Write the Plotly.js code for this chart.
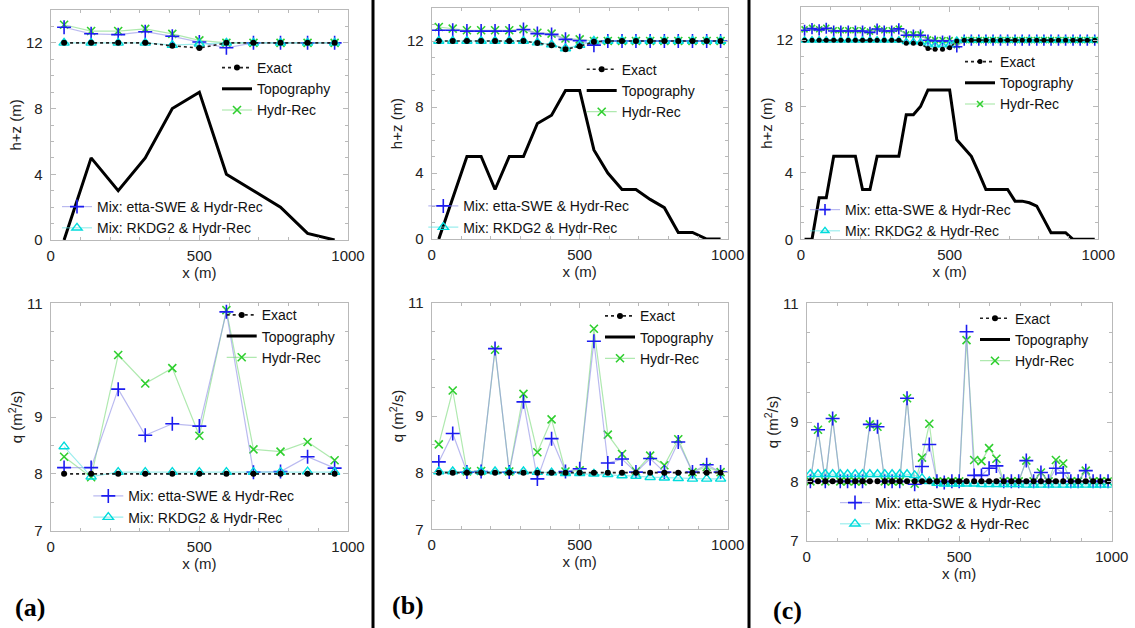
<!DOCTYPE html>
<html><head><meta charset="utf-8">
<script src="https://cdn.plot.ly/plotly-3.0.1.min.js"></script>
<style>html,body{margin:0;padding:0;background:#fff}
.traces{opacity:1 !important}</style>
</head><body><div id="chart" style="width:1135px;height:628px"></div>
<script>
// ---------- DATA ----------
const seriesNames = ['Exact', 'Topography', 'Hydr-Rec', 'Mix: etta-SWE & Hydr-Rec', 'Mix: RKDG2 & Hydr-Rec'];
const panelLabels = ['(a)', '(b)', '(c)'];
const xTickVals = [0, 500, 1000];
const hTickVals = [0, 4, 8, 12];
const qTickVals = [7, 8, 9, 11];

// (a) 11 cells
const xA = [45, 136, 227, 318, 409, 500, 591, 682, 773, 864, 955];
const topoA = [0, 5, 3, 5, 8, 9, 4, 3, 2, 0.4, 0];
const exactHA = [12, 12, 12, 12, 11.82, 11.68, 12, 12, 12, 12, 12];
const hydrHA = [13.1, 12.72, 12.72, 12.85, 12.55, 12.15, 12.0, 12, 12, 12, 12];
const ettaHA = [12.95, 12.55, 12.5, 12.68, 12.4, 12.05, 11.7, 12, 12, 12, 12];
const rkdgHA = [12, 12, 12, 12, 11.86, 11.95, 12, 12, 12, 12, 12];
const exactQA = [8, 8, 8, 8, 8, 8, 8, 8, 8, 8, 8];
const hydrQA = [8.3, 7.94, 10.09, 9.59, 9.86, 8.67, 10.88, 8.43, 8.39, 8.56, 8.24];
const ettaQA = [8.11, 8.11, 9.49, 8.68, 8.88, 8.84, 10.85, 8.03, 8.04, 8.3, 8.1];
const rkdgQA = [8.48, 7.95, 8.03, 8.03, 8.03, 8.03, 8.03, 8.03, 8.03, 8.04, 8.03];

// (b) 21 cells
const xB = [24, 71, 119, 167, 214, 262, 310, 357, 405, 452, 500, 548, 595, 643, 690, 738, 786, 833, 881, 929, 976];
const topoB = [0, 2.5, 5, 5, 3, 5, 5, 7, 7.5, 9, 9, 5.4, 4, 3, 3, 2.4, 1.9, 0.4, 0.4, 0, 0];
const exactHB = [12, 12, 12, 12, 12, 12, 12, 11.88, 11.75, 11.5, 11.68, 11.95, 12, 12, 12, 12, 12, 12, 12, 12, 12];
const hydrHB = [12.85, 12.75, 12.65, 12.65, 12.65, 12.65, 12.72, 12.5, 12.45, 12.15, 12.1, 12.0, 12, 12, 12, 12, 12, 12, 12, 12, 12];
const ettaHB = [12.65, 12.65, 12.6, 12.6, 12.6, 12.6, 12.7, 12.45, 12.4, 12.1, 12.02, 11.75, 12, 12, 12, 12, 12, 12, 12, 12, 12];
const rkdgHB = [12, 12, 12, 12, 12, 12, 12, 11.9, 11.78, 11.55, 11.75, 12, 12, 12, 12, 12, 12, 12, 12, 12, 12];
const exactQB = [8, 8, 8, 8, 8, 8, 8, 8, 8, 8, 8, 8, 8, 8, 8, 8, 8, 8, 8, 8, 8];
const hydrQB = [8.5, 9.45, 8.02, 8.03, 10.17, 8.02, 9.39, 8.36, 8.94, 8.02, 8.04, 10.54, 8.67, 8.33, 8.02, 8.3, 8.13, 8.59, 8.01, 8.1, 8.01];
const ettaQB = [8.19, 8.69, 8.01, 8.02, 10.19, 8.01, 9.25, 7.89, 8.6, 8.02, 8.07, 10.32, 8.17, 8.24, 8.01, 8.25, 8.01, 8.54, 8.01, 8.14, 8.01];
const rkdgQB = [8.02, 8.02, 8.02, 8.02, 8.02, 8.02, 8.02, 8.01, 8.0, 7.99, 7.99, 7.98, 7.97, 7.95, 7.94, 7.92, 7.91, 7.9, 7.89, 7.89, 7.89];

// (c) 41 cells
const xC = [12, 37, 61, 85, 110, 134, 159, 183, 207, 232, 256, 280, 305, 329, 354, 378, 402, 427, 451, 476, 500,
            524, 549, 573, 598, 622, 646, 671, 695, 720, 744, 768, 793, 817, 841, 866, 890, 915, 939, 963, 988];
const topoC = [0, 0, 2.5, 2.5, 5, 5, 5, 5, 3, 3, 5, 5, 5, 5, 7.5, 7.5, 8, 9, 9, 9, 9,
               6, 5.5, 5, 4, 3, 3, 3, 3, 2.3, 2.3, 2.2, 2, 1.2, 0.4, 0.4, 0.4, 0, 0, 0, 0];
const exactHC = [12, 12, 12, 12, 12, 12, 12, 12, 12, 12, 12, 12, 12, 12, 11.82, 11.82, 11.78, 11.5, 11.45, 11.45, 11.55,
                 11.95, 12, 12, 12, 12, 12, 12, 12, 12, 12, 12, 12, 12, 12, 12, 12, 12, 12, 12, 12];
const hydrHC = [12.65, 12.74, 12.66, 12.75, 12.6, 12.6, 12.6, 12.6, 12.6, 12.52, 12.7, 12.6, 12.6, 12.7, 12.35, 12.35, 12.35, 12.05, 12.0, 12.0, 12.0,
                11.7, 12, 12, 12, 12, 12, 12, 12, 12, 12, 12, 12, 12, 12, 12, 12, 12, 12, 12, 12];
const ettaHC = [12.6, 12.7, 12.62, 12.72, 12.55, 12.55, 12.55, 12.55, 12.55, 12.47, 12.67, 12.55, 12.55, 12.68, 12.3, 12.3, 12.3, 12.0, 11.95, 11.95, 11.95,
                11.6, 12, 12, 12, 12, 12, 12, 12, 12, 12, 12, 12, 12, 12, 12, 12, 12, 12, 12, 12];
const rkdgHC = [12, 12, 12, 12, 12, 12, 12, 12, 12, 12, 12, 12, 12, 12, 11.9, 11.9, 11.88, 11.75, 11.7, 11.7, 11.75,
                11.98, 12, 12, 12, 12, 12, 12, 12, 12, 12, 12, 12, 12, 12, 12, 12, 12, 12, 12, 12];
const exactQC = [8, 8, 8, 8, 8, 8, 8, 8, 8, 8, 8, 8, 8, 8, 8, 8, 8, 8, 8, 8, 8,
                 8, 8, 8, 8, 8, 8, 8, 8, 8, 8, 8, 8, 8, 8, 8, 8, 8, 8, 8, 8];
const hydrQC = [8.0, 8.87, 8.0, 9.06, 8.0, 8.0, 8.0, 8.0, 8.96, 8.92, 8.0, 8.0, 8.0, 9.4, 7.96, 8.4, 8.97, 8.0, 7.99, 8.0, 8.0,
                10.38, 8.36, 8.34, 8.56, 8.38, 8.0, 8.0, 8.0, 8.35, 8.0, 8.15, 8.0, 8.36, 8.3, 8.0, 8.0, 8.18, 8.0, 8.0, 8.0];
const ettaQC = [8.0, 8.87, 8.0, 9.06, 8.0, 8.0, 8.0, 8.0, 8.96, 8.92, 8.0, 8.0, 8.0, 9.4, 7.95, 8.25, 8.62, 8.0, 7.98, 8.0, 8.0,
                10.52, 8.1, 8.1, 8.22, 8.26, 8.0, 8.0, 8.0, 8.35, 8.0, 8.15, 8.0, 8.22, 8.14, 8.0, 8.0, 8.18, 8.0, 8.0, 8.0];
const rkdgQC = [8.12, 8.12, 8.12, 8.12, 8.12, 8.12, 8.12, 8.12, 8.12, 8.12, 8.12, 8.12, 8.12, 8.12, 8.1, 8.05, 8.0, 7.97, 7.96, 7.96, 7.96,
                7.96, 7.96, 7.95, 7.95, 7.95, 7.95, 7.95, 7.95, 7.94, 7.94, 7.94, 7.94, 7.94, 7.94, 7.94, 7.94, 7.94, 7.94, 7.94, 7.94];

// ---------- LAYOUT HELPERS ----------
const W = 1135, H = 628;
const P = px => px / W;
const Q = py => 1 - py / H;
const FONT = 'Liberation Sans, Arial, sans-serif';
const FRAME = '#b9b9b9';

const styles = {
  exact: {mode: 'lines+markers', line: {color: '#222', width: 1.6, dash: 'dot'},
          marker: {symbol: 'circle', size: 6, color: '#000'}},
  topo: {mode: 'lines', line: {color: '#000', width: 3}},
  hydr: {mode: 'lines+markers', line: {color: 'rgba(110,215,110,0.55)', width: 1.2},
         marker: {symbol: 'x-thin-open', size: 8, color: '#2fcf2f', line: {width: 1.6, color: '#2fcf2f'}}},
  etta: {mode: 'lines+markers', line: {color: 'rgba(140,140,230,0.6)', width: 1.2},
         marker: {symbol: 'cross-thin-open', size: 10, color: '#1c1cf0', line: {width: 1.6, color: '#1c1cf0'}}},
  rkdg: {mode: 'lines+markers', line: {color: 'rgba(90,225,225,0.6)', width: 1.2},
         marker: {symbol: 'triangle-up-open', size: 9, color: '#00dcdc', line: {width: 1.4, color: '#00dcdc'}}}
};

const data = [];
// topoOnPlot=false: Topography is listed in the legend of the q panels but not drawn there
function addPanel(ax, x, topo, topoOnPlot, exact, hydr, etta, rkdg, legA, legB, mScale) {
  const xa = 'x' + ax, ya = 'y' + ax;
  const mk = (key, name, rank, xs, ys, leg, show) => {
    const st = JSON.parse(JSON.stringify(styles[key]));
    if (st.marker) st.marker.size = Math.round(st.marker.size * mScale);
    return Object.assign({
      type: 'scatter', x: xs, y: ys, name: name, xaxis: xa, yaxis: ya,
      legend: leg, legendrank: rank, showlegend: show, cliponaxis: true, hoverinfo: 'skip'
    }, st);
  };
  const t = mk('topo', seriesNames[1], 2, x, topo, legA, true);
  if (!topoOnPlot) t.visible = 'legendonly';
  data.push(t);
  data.push(mk('hydr', seriesNames[2], 3, x, hydr, legA, true));
  data.push(mk('etta', seriesNames[3], 4, x, etta, legB || legA, !!legB));
  data.push(mk('rkdg', seriesNames[4], 5, x, rkdg, legB || legA, !!legB));
  data.push(mk('exact', seriesNames[0], 1, x, exact, legA, true));
}
addPanel('',  xA, topoA, true,  exactHA, hydrHA, ettaHA, rkdgHA, 'legend',  'legend2', 1);
addPanel('2', xA, topoA, false, exactQA, hydrQA, ettaQA, rkdgQA, 'legend3', 'legend4', 1);
addPanel('3', xB, topoB, true,  exactHB, hydrHB, ettaHB, rkdgHB, 'legend5', 'legend6', 1);
addPanel('4', xB, topoB, false, exactQB, hydrQB, ettaQB, rkdgQB, 'legend7', null, 1);
addPanel('5', xC, topoC, true,  exactHC, hydrHC, ettaHC, rkdgHC, 'legend8', 'legend9', 0.75);
addPanel('6', xC, topoC, false, exactQC, hydrQC, ettaQC, rkdgQC, 'legend10', 'legend11', 0.95);

function xAxis(x0, x1, anchor) {
  return {domain: [P(x0), P(x1)], anchor: anchor, range: [0, 1000], tickvals: xTickVals,
    ticks: 'inside', ticklen: 5, tickcolor: FRAME, showline: true, linecolor: FRAME, linewidth: 1,
    mirror: 'ticks', showgrid: false, zeroline: false, ticklabelstandoff: 2,
    tickfont: {size: 15, color: '#222', family: FONT},
    minor: {dtick: 100, ticks: 'inside', ticklen: 3, tickcolor: FRAME, showgrid: false},
    title: {text: 'x (m)', font: {size: 15, color: '#222', family: FONT}, standoff: 0},
    automargin: false, fixedrange: true};
}
function yAxis(top, bottom, anchor, kind) {
  const isH = kind === 'h';
  return {domain: [Q(bottom), Q(top)], anchor: anchor, range: isH ? [0, 14] : [7, 11],
    tickvals: isH ? hTickVals : qTickVals,
    ticks: 'inside', ticklen: 5, tickcolor: FRAME, showline: true, linecolor: FRAME, linewidth: 1,
    mirror: 'ticks', showgrid: false, zeroline: false, ticklabelstandoff: 4,
    tickfont: {size: 15, color: '#222', family: FONT},
    minor: {dtick: isH ? 1 : 0.5, ticks: 'inside', ticklen: 3, tickcolor: FRAME, showgrid: false},
    title: {text: isH ? 'h+z (m)' : 'q (m<sup>2</sup>/s)', font: {size: 15, color: '#222', family: FONT}, standoff: 0},
    automargin: false, fixedrange: true};
}
// textX: left of the first item text; firstY: centre of first item; n: number of items
function leg(textX, firstY, n) {
  return {x: P(textX - 40), y: Q(firstY - (n === 3 ? 19 : 18)), xanchor: 'left', yanchor: 'top',
    bgcolor: 'rgba(0,0,0,0)', borderwidth: 0, tracegroupgap: 0,
    font: {size: 14, color: '#111', family: FONT}};
}

const layout = {
  width: W, height: H, margin: {l: 0, r: 0, t: 0, b: 0},
  paper_bgcolor: '#fff', plot_bgcolor: '#fff', font: {family: FONT, color: '#222'},
  xaxis:  xAxis(50.7, 348, 'y'),     yaxis:  yAxis(10, 240, 'x', 'h'),
  xaxis2: xAxis(50.7, 348, 'y2'),    yaxis2: yAxis(303.3, 530.7, 'x2', 'q'),
  xaxis3: xAxis(431.7, 727.7, 'y3'), yaxis3: yAxis(8, 239, 'x3', 'h'),
  xaxis4: xAxis(431.7, 727.7, 'y4'), yaxis4: yAxis(302.7, 529.3, 'x4', 'q'),
  xaxis5: xAxis(801, 1098.3, 'y5'),  yaxis5: yAxis(7, 239.3, 'x5', 'h'),
  xaxis6: xAxis(806.7, 1111.7, 'y6'), yaxis6: yAxis(303.3, 540.7, 'x6', 'q'),
  legend: leg(257, 71, 3), legend2: leg(97, 209, 2),
  legend3: leg(261.7, 318.3, 3), legend4: leg(128.3, 498.3, 2),
  legend5: leg(621.7, 72.7, 3), legend6: leg(463.3, 208.3, 2),
  legend7: leg(640, 319.3, 3),
  legend8: leg(1000, 65, 3), legend9: leg(845, 212, 2),
  legend10: leg(1015, 321.7, 3), legend11: leg(875, 505, 2),
  shapes: [373, 749].map(px => ({type: 'line', xref: 'paper', yref: 'paper', x0: P(px), x1: P(px), y0: 0, y1: 1,
    line: {color: '#000', width: 3}})),
  annotations: [[30, 607], [408, 605], [787, 610]].map((p, i) => ({
    xref: 'paper', yref: 'paper', x: P(p[0]), y: Q(p[1]), xanchor: 'center', yanchor: 'middle',
    text: '<b>' + panelLabels[i] + '</b>', showarrow: false,
    font: {family: 'Liberation Serif, Times New Roman, serif', size: 26, color: '#000'}}))
};

Plotly.newPlot('chart', data, layout, {displayModeBar: false, staticPlot: true});
</script></body></html>
